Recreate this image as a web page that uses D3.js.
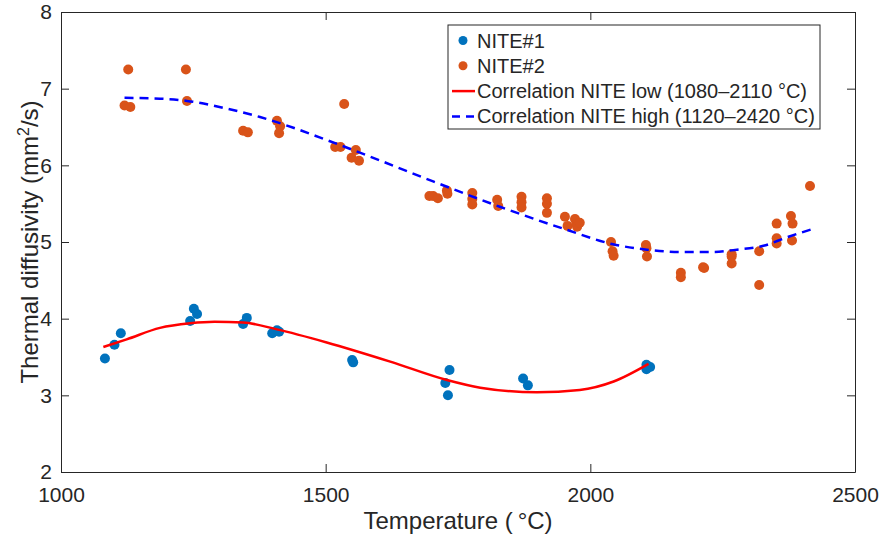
<!DOCTYPE html>
<html>
<head>
<meta charset="utf-8">
<script src="https://cdn.jsdelivr.net/npm/d3@7"></script>
<style>
  body { margin: 0; background: #fff; }
  text { font-family: "Liberation Sans", Arial, sans-serif; fill: #262626; }
</style>
</head>
<body>
<div id="chart"></div>
<script>
// NITE#1 measurements (temperature °C, diffusivity mm2/s)
var nite1T = [1083, 1101, 1113, 1244, 1251, 1257, 1344, 1351, 1399, 1408, 1412, 1550, 1552,
  1734, 1726, 1731, 1873, 1882, 2106, 2113, 2106];
var nite1D = [3.48, 3.66, 3.81, 3.97, 4.13, 4.06, 3.93, 4.01, 3.81, 3.85, 3.83, 3.46, 3.43,
  3.33, 3.16, 3.00, 3.22, 3.13, 3.40, 3.37, 3.34];

// NITE#2 measurements
var nite2T = [1127, 1236, 1120, 1131, 1238, 1344, 1353, 1408, 1414, 1412, 1535, 1518, 1528,
  1557, 1549, 1563, 1696, 1703, 1712, 1729, 1730, 1777, 1777, 1777, 1824, 1826,
  1870, 1870, 1870, 1918, 1918, 1918, 1952, 1957, 1971, 1974, 1975, 1980,
  2039, 2042, 2044, 2105, 2106, 2107, 2171, 2171, 2213, 2215, 2267, 2267, 2267,
  2319, 2319, 2352, 2352, 2352, 2379, 2382, 2381, 2415];
var nite2D = [7.25, 7.25, 6.78, 6.76, 6.84, 6.45, 6.43, 6.58, 6.51, 6.42, 6.80, 6.24, 6.24,
  6.20, 6.10, 6.06, 5.60, 5.60, 5.57, 5.67, 5.63, 5.64, 5.56, 5.49, 5.55, 5.47,
  5.59, 5.52, 5.45, 5.57, 5.50, 5.38, 5.33, 5.21, 5.30, 5.23, 5.20, 5.25,
  5.00, 4.88, 4.82, 4.96, 4.92, 4.81, 4.60, 4.54, 4.67, 4.66, 4.84, 4.81, 4.72,
  4.88, 4.44, 5.24, 5.05, 4.98, 5.34, 5.24, 5.02, 5.73];

// correlation curves
var lowT = [1080, 1124, 1187, 1244, 1290, 1344, 1408, 1502, 1622, 1729, 1792, 1899, 1980, 2044, 2110];
var lowD = [3.63, 3.73, 3.88, 3.94, 3.96, 3.95, 3.86, 3.69, 3.44, 3.20, 3.10, 3.04, 3.07, 3.18, 3.41];
var highT = [1120, 1187, 1238, 1313, 1376, 1439, 1502, 1578, 1703, 1829, 1955, 2043, 2107, 2170,
  2232, 2277, 2327, 2371, 2420];
var highD = [6.88, 6.87, 6.84, 6.74, 6.63, 6.49, 6.33, 6.13, 5.79, 5.46, 5.16, 4.97, 4.90, 4.87,
  4.87, 4.90, 4.95, 5.06, 5.17];

var xTicks = [1000, 1500, 2000, 2500];
var yTicks = [2, 3, 4, 5, 6, 7, 8];

var W = 881, H = 542;
var margin = { top: 12, right: 26, bottom: 70, left: 61 };
var width = W - margin.left - margin.right,
  height = H - margin.top - margin.bottom;

var svg = d3.select("#chart").append("svg")
  .attr("width", W).attr("height", H)
  .append("g")
  .attr("transform", "translate(" + margin.left + "," + margin.top + ")");

var x = d3.scaleLinear().domain([1000, 2500]).range([0, width]);
var y = d3.scaleLinear().domain([2, 8]).range([height, 0]);

// axes with inward ticks, box around
function styleAxis(g) {
  g.selectAll("path").attr("stroke", "#262626").attr("stroke-width", 1);
  g.selectAll("line").attr("stroke", "#262626").attr("stroke-width", 1);
  g.selectAll("text").attr("fill", "#262626").style("font-size", "21px")
    .style("font-family", "Liberation Sans, Arial, sans-serif");
}
svg.append("g").attr("transform", "translate(0," + height + ")")
  .call(d3.axisBottom(x).tickValues(xTicks).tickFormat(d3.format("d"))
    .tickSizeInner(-8).tickSizeOuter(0).tickPadding(15))
  .call(styleAxis);
svg.append("g")
  .call(d3.axisLeft(y).tickValues(yTicks).tickFormat(d3.format("d"))
    .tickSizeInner(-8).tickSizeOuter(0).tickPadding(9))
  .call(styleAxis);
svg.append("g")
  .call(d3.axisTop(x).tickValues(xTicks).tickSizeInner(-8).tickSizeOuter(0).tickFormat(""))
  .call(styleAxis);
svg.append("g").attr("transform", "translate(" + width + ",0)")
  .call(d3.axisRight(y).tickValues(yTicks).tickSizeInner(-8).tickSizeOuter(0).tickFormat(""))
  .call(styleAxis);

// correlation lines
var line = d3.line().curve(d3.curveMonotoneX)
  .x(function (d) { return x(d[0]); })
  .y(function (d) { return y(d[1]); });

var lowData = lowT.map(function (t, i) { return [t, lowD[i]]; });
var highData = highT.map(function (t, i) { return [t, highD[i]]; });

// points
svg.append("g").selectAll("circle")
  .data(nite2T.map(function (t, i) { return [t, nite2D[i]]; }))
  .enter().append("circle")
  .attr("cx", function (d) { return x(d[0]); })
  .attr("cy", function (d) { return y(d[1]); })
  .attr("r", 5)
  .attr("fill", "#D95319");

svg.append("g").selectAll("circle")
  .data(nite1T.map(function (t, i) { return [t, nite1D[i]]; }))
  .enter().append("circle")
  .attr("cx", function (d) { return x(d[0]); })
  .attr("cy", function (d) { return y(d[1]); })
  .attr("r", 5)
  .attr("fill", "#0072BD");

svg.append("path").datum(lowData)
  .attr("fill", "none").attr("stroke", "#FF0000").attr("stroke-width", 2.5)
  .attr("d", line);
svg.append("path").datum(highData)
  .attr("fill", "none").attr("stroke", "#0000FF").attr("stroke-width", 2.5)
  .attr("stroke-dasharray", "9,6")
  .attr("d", line);

// axis labels
svg.append("text")
  .attr("x", width / 2).attr("y", height + 57)
  .attr("text-anchor", "middle")
  .style("font-size", "24px")
  .text("Temperature (\u2009\u00B0C)");

var yl = svg.append("text")
  .attr("transform", "translate(-23," + height / 2 + ") rotate(-90)")
  .attr("text-anchor", "middle")
  .style("font-size", "24px");
yl.append("tspan").text("Thermal diffusivity (mm");
yl.append("tspan").attr("dy", -9).style("font-size", "16px").text("2");
yl.append("tspan").attr("dy", 9).text("/s)");

// legend
var lg = svg.append("g").attr("transform", "translate(" + (448 - margin.left) + "," + (25 - margin.top) + ")");
lg.append("rect").attr("width", 372).attr("height", 104)
  .attr("fill", "#fff").attr("stroke", "#262626").attr("stroke-width", 1);

var items = [
  { label: "NITE#1", type: "dot", color: "#0072BD" },
  { label: "NITE#2", type: "dot", color: "#D95319" },
  { label: "Correlation NITE low (1080\u20132110 \u00B0C)", type: "line", color: "#FF0000" },
  { label: "Correlation NITE high (1120\u20132420 \u00B0C)", type: "dash", color: "#0000FF" }
];
items.forEach(function (it, i) {
  var cy = 15.5 + i * 25.3;
  if (it.type == "dot") {
    lg.append("circle").attr("cx", 15).attr("cy", cy).attr("r", 4.5).attr("fill", it.color);
  } else {
    lg.append("line").attr("x1", 4).attr("x2", 27).attr("y1", cy).attr("y2", cy)
      .attr("stroke", it.color).attr("stroke-width", 2.5)
      .attr("stroke-dasharray", it.type == "dash" ? "8,6" : null);
  }
  lg.append("text").attr("x", 29).attr("y", cy + 7).style("font-size", "20px").text(it.label);
});
</script>
</body>
</html>
